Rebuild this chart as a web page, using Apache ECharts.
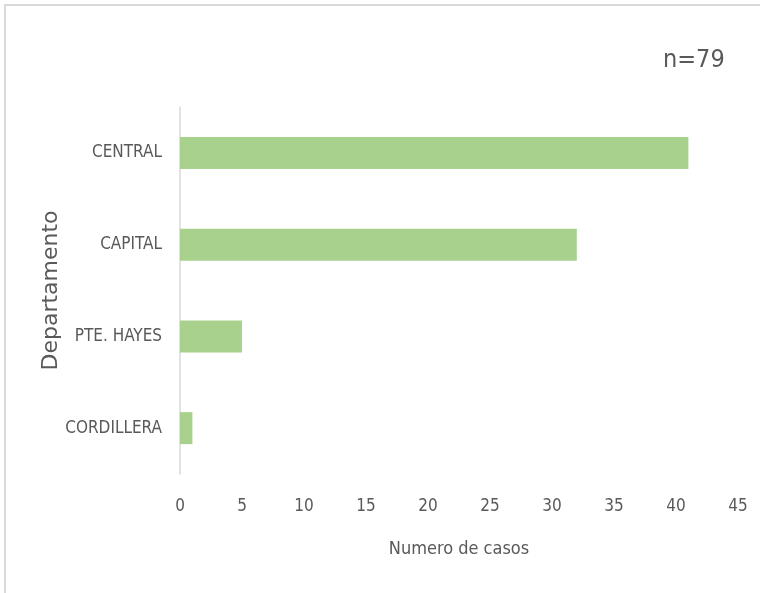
<!DOCTYPE html>
<html>
<head>
<meta charset="utf-8">
<script src="https://cdn.jsdelivr.net/npm/echarts@6/dist/echarts.min.js"></script>
<style>
  html, body { margin: 0; padding: 0; background: #fff; }
  #chart { width: 760px; height: 593px; }
</style>
</head>
<body>
<div id="chart"></div>
<script>
// datos
const departamentos = ['CORDILLERA', 'PTE. HAYES', 'CAPITAL', 'CENTRAL'];
const casos = [1, 5, 32, 41];
const totalCasos = 79;

const fuente = '"Liberation Sans Narrow", "DejaVu Sans Condensed", sans-serif';
const gris = '#595959';

const chart = echarts.init(document.getElementById('chart'));

const option = {
  animation: false,
  textStyle: { fontFamily: fuente },
  graphic: [
    {
      type: 'rect',
      shape: { x: 5, y: 5, width: 760, height: 600 },
      style: { fill: 'none', stroke: '#d9d9d9', lineWidth: 2 }
    },
    {
      type: 'text',
      left: 663,
      top: 48,
      style: { text: 'n=' + totalCasos, fontSize: 25, fill: gris, fontFamily: fuente }
    }
  ],
  grid: { left: 180, right: 22, top: 107, bottom: 119 },
  xAxis: {
    type: 'value',
    min: 0,
    max: 45,
    interval: 5,
    name: 'Numero de casos',
    nameLocation: 'middle',
    nameGap: 66,
    nameTextStyle: { fontSize: 18, color: gris, fontFamily: fuente },
    axisLine: { show: false },
    axisTick: { show: false },
    splitLine: { show: false },
    axisLabel: { fontSize: 17, color: gris, margin: 24, fontFamily: fuente }
  },
  yAxis: {
    type: 'category',
    data: departamentos,
    name: 'Departamento',
    nameLocation: 'middle',
    nameGap: 118,
    nameMoveOverlap: false,
    nameTextStyle: { fontSize: 22, color: gris, fontFamily: '"DejaVu Sans", sans-serif' },
    axisLine: { lineStyle: { color: '#d9d9d9', width: 1.5 } },
    axisTick: { show: false },
    axisLabel: { fontSize: 17, color: gris, margin: 18, fontFamily: fuente }
  },
  series: [{
    type: 'bar',
    data: casos,
    barWidth: 32,
    itemStyle: { color: '#a9d18e' }
  }]
};

chart.setOption(option);
</script>
</body>
</html>
